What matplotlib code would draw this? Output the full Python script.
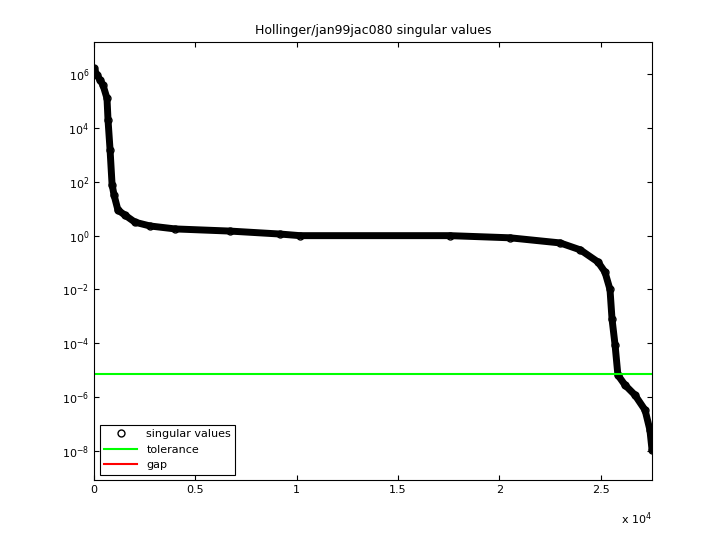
import numpy as np
import matplotlib
matplotlib.use("Agg")
import matplotlib.pyplot as plt

# singular value profile (index, log10 value)
sv_index = [0, 150, 300, 440, 640, 690, 790, 890, 990, 1180, 1530, 2020, 2760,
            4000, 6710, 9180, 10160, 17570, 20530, 23000, 24000, 24870, 25210,
            25460, 25560, 25710, 25850, 26200, 26690, 27190, 27430, 27534]
sv_log10 = [6.22, 5.96, 5.78, 5.6, 5.1, 4.3, 3.2, 1.9, 1.5, 0.95, 0.76, 0.5, 0.36,
            0.25, 0.17, 0.06, 0.0, 0.0, -0.08, -0.27, -0.53, -0.98, -1.35,
            -2.0, -3.1, -4.06, -5.18, -5.55, -5.92, -6.48, -7.22, -7.96]
tolerance = 7.2e-6
n_total = 27534

fig = plt.figure(figsize=(7.2, 5.4), dpi=100)
ax = fig.add_axes([0.1306, 0.111, 0.775, 0.811])

vals = 10.0 ** np.array(sv_log10)
# thick band made by overlapping markers in the original
ax.semilogy(sv_index, vals, color="black", linewidth=5, solid_capstyle="round")
ax.semilogy(sv_index, vals, "o", color="black", markerfacecolor="none",
            markersize=5, label="singular values")
ax.axhline(tolerance, color="#00ff00", linewidth=1.5, label="tolerance")
ax.plot([], [], color="red", linewidth=1.5, label="gap")

ax.set_xlim(0, n_total)
ax.set_ylim(10 ** -9.08, 10 ** 7.19)
ax.set_yticks([10.0 ** k for k in range(-8, 7, 2)])
ax.minorticks_off()
ax.set_xticks([0, 5000, 10000, 15000, 20000, 25000])
ax.set_xticklabels(["0", "0.5", "1", "1.5", "2", "2.5"])
ax.tick_params(direction="in", labelsize=8, top=True, right=True)
ax.text(1.0, -0.07, r"x 10$^4$", transform=ax.transAxes, fontsize=8, ha="right", va="top")
ax.set_title("Hollinger/jan99jac080 singular values", fontsize=9)

leg = ax.legend(loc="lower left", fontsize=8, fancybox=False, edgecolor="black",
                framealpha=1, handlelength=3)
leg.get_frame().set_linewidth(0.8)

fig.savefig("out.png", dpi=100)
